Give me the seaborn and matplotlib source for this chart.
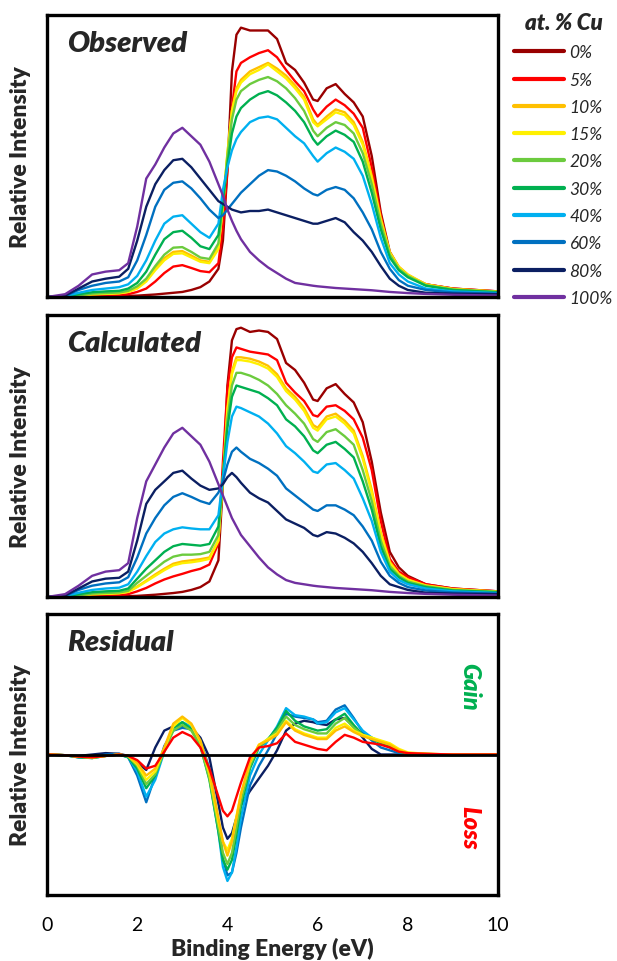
import numpy as np
import pandas as pd
import matplotlib
matplotlib.use("Agg")
import matplotlib.pyplot as plt
import seaborn as sns

# Style
sns.set_style("white")
plt.rcParams['font.family'] = ['Lato', 'DejaVu Sans']

# Binding energy grid (eV)
energy = [0.0, 0.4, 0.7, 1.0, 1.3, 1.6, 1.8, 2.0, 2.2, 2.4, 2.6, 2.8, 3.0, 3.2, 3.4,
          3.6, 3.8, 3.9, 4.0, 4.1, 4.2, 4.3, 4.5, 4.7, 4.9, 5.1, 5.3, 5.5, 5.7, 5.9,
          6.0, 6.2, 6.4, 6.6, 6.8, 7.0, 7.2, 7.4, 7.6, 7.8, 8.0, 8.4, 9.0, 10.0]

cu_labels = ['0%', '5%', '10%', '15%', '20%', '30%', '40%', '60%', '80%', '100%']
cu_colors = ['#990000', '#FF0000', '#FFC000', '#FFF000', '#6CCB3E',
             '#00B050', '#00B0F0', '#0070C0', '#0B1F62', '#7030A0']

# Observed spectra
obs_cu0 = [0, 0, 0, 0.1, 0.2, 0.3, 0.4, 0.5, 0.7, 0.9, 1.2, 1.5, 1.8, 2.5, 3.5,
           5.5, 10, 20, 45, 80, 93, 95.5, 94.5, 94.5, 94.5, 91.5, 83, 80.5, 76, 70,
           69.5, 74, 75.5, 72, 69, 64, 50, 30, 16, 10.5, 7.5, 4.5, 3, 2]
obs_cu5 = [0, 0, 0.2, 0.4, 0.5, 0.7, 1, 1.8, 3, 5.5, 8.5, 10.8, 11.3, 10.3, 9.2,
           8.8, 12, 25, 45, 67, 80, 83, 85, 86.5, 87.5, 85, 80.5, 76.5, 73, 66.5,
           64, 67.5, 70, 68, 65, 60, 46, 29, 15, 10.5, 7.5, 4.5, 3, 2]
obs_cu10 = [0, 0.1, 0.5, 1, 1.2, 1.4, 1.9, 3.2, 5.8, 10, 13.8, 16, 16.3, 14.7, 13,
            12.5, 17.5, 32, 51, 66, 74, 77, 80, 81.5, 83, 81, 78.5, 75, 71, 63,
            61, 64, 66.5, 65.5, 62, 55, 43, 28, 16, 10.8, 8, 4.5, 2.9, 1.9]
obs_cu15 = [0, 0.1, 0.4, 0.9, 1.1, 1.3, 1.8, 3, 5.5, 9.5, 13, 15.3, 15.5, 14, 12.5,
            12, 17, 32, 51, 66, 73, 76, 79, 80.5, 82.5, 80, 77.5, 74, 70, 62,
            60.5, 63, 65.5, 64.5, 61, 54, 42, 27, 15.5, 10.5, 7.8, 4.4, 2.8, 1.9]
obs_cu20 = [0, 0.1, 0.6, 1.2, 1.4, 1.6, 2.2, 3.8, 6.5, 11, 15, 17.5, 17.7, 16, 14,
            13.5, 19, 33, 50, 63, 70, 73, 75.5, 77, 78, 76.5, 74, 70.5, 66, 59,
            57, 60, 62, 61, 58, 51, 40, 26, 15, 10, 7.5, 4.2, 2.7, 1.8]
obs_cu30 = [0, 0.2, 1, 1.7, 2, 2.2, 3, 5, 9, 15, 20.5, 23, 23.5, 21, 18,
            17, 22, 34, 47, 58, 64, 67, 70, 72, 73, 71.5, 69, 66, 62, 56,
            54, 57, 59, 57.5, 55, 48, 37, 24, 14, 9.5, 7, 4, 2.5, 1.7]
obs_cu40 = [0, 0.3, 1.5, 2.5, 3, 3.5, 4.5, 7.5, 13, 20, 26, 28.5, 29, 26, 23,
            21, 26, 38, 46, 52, 56, 58.5, 62, 63.5, 64, 63, 60, 57, 54.5, 50,
            48, 51, 53, 51.5, 49, 43, 33, 21, 12, 8, 5.5, 3, 2, 1.4]
obs_cu60 = [0, 0.4, 2.5, 4, 5, 5.5, 7, 13, 22, 32, 38, 40.5, 41, 38.5, 35,
            31, 28, 29, 31, 33, 35, 37, 40, 43, 45, 44.5, 43, 41, 38.5, 36.5,
            36, 38, 39, 38, 35, 30, 24, 16, 10, 6, 4, 2.5, 1.6, 1.2]
obs_cu80 = [0, 0.5, 3, 5.5, 6.5, 7.2, 10, 20, 32, 40, 45, 48.5, 49, 46, 42,
            38, 34, 33, 32, 31, 30.5, 30, 30.5, 30.5, 31, 30, 29, 28, 27, 26,
            26, 27, 28, 26.5, 23, 20, 16, 11, 6.5, 4, 2.5, 1.5, 1.2, 1.0]
obs_cu100 = [0, 1, 4, 8, 9, 9.5, 12, 25, 42, 47, 53, 58, 60, 57, 54,
             48, 40, 36, 31, 27, 23.5, 20.5, 16, 13, 10.5, 8.5, 6.5, 5, 4.5, 4,
             3.8, 3.5, 3.2, 3, 2.8, 2.6, 2.4, 2.1, 1.8, 1.6, 1.4, 1.1, 0.8, 0.5]

# Calculated spectra
calc_cu0 = [0, 0, 0, 0, 0.1, 0.2, 0.3, 0.4, 0.6, 0.8, 1.1, 1.4, 1.8, 2.5, 3.5,
            5.5, 13, 40, 75, 91, 95, 95.5, 94, 94.5, 94, 91.5, 83, 80.5, 76, 70,
            69.5, 74, 75.5, 72, 69, 62, 48, 30, 16, 10.5, 7.5, 4.5, 3, 2]
calc_cu5 = [0, 0, 0.2, 0.4, 0.5, 0.7, 1, 2, 3.2, 4.8, 6.2, 7.3, 8.2, 9.2, 10,
            11.5, 19, 48, 74, 85, 88.5, 88, 87, 86.5, 86, 84, 76, 72.5, 69.5, 64.5,
            64, 67.5, 68, 66, 63, 56.5, 45, 27, 13.5, 9, 7, 4.5, 3, 2]
calc_cu10 = [0, 0.1, 0.5, 1, 1.2, 1.4, 1.9, 3.7, 5.8, 8, 10, 11.8, 12.6, 13, 13.4,
             14, 20, 42, 67, 80, 85, 85, 84.5, 83.5, 82, 79, 74, 71, 67, 61,
             60, 64, 65, 62.5, 59, 50, 38, 23, 12.5, 8.3, 6.2, 4.1, 2.8, 1.9]
calc_cu15 = [0, 0.1, 0.4, 0.9, 1.1, 1.3, 1.8, 3.5, 5.5, 7.5, 9.5, 11.2, 12, 12.3, 12.8,
             13.5, 20, 42, 66, 79, 84, 84, 83.5, 82.5, 81, 78, 73, 70, 66, 60,
             59, 63, 64, 61.5, 58, 49, 37, 22, 12, 8, 6, 4, 2.7, 1.9]
calc_cu20 = [0, 0.1, 0.6, 1.2, 1.4, 1.6, 2.2, 5, 7.5, 10, 12.5, 14.3, 15, 15, 15.2,
             16, 22, 42, 63, 75, 79.5, 79.5, 78.5, 77, 75, 72, 68, 65, 61.5, 56,
             55, 58.5, 59.5, 57, 54, 45, 34, 20, 11, 7.5, 5.5, 3.8, 2.5, 1.8]
calc_cu30 = [0, 0.2, 1, 1.7, 2, 2.2, 3, 6.5, 10, 13, 16, 18, 18.8, 18.5, 18.2,
             18.8, 25, 43, 60, 71, 75, 74.5, 73.5, 72.5, 70.5, 68, 63, 60.5, 57, 52,
             51, 54, 55, 52.5, 49.5, 41, 31, 18, 10, 7, 5, 3.5, 2.3, 1.7]
calc_cu40 = [0, 0.3, 1.5, 2.5, 3, 3.3, 4.5, 9, 14.5, 19.5, 22.5, 24, 24.7, 24.3, 24,
             24, 29, 42, 55, 64, 67.5, 67, 65.5, 64, 61.5, 58, 53.5, 51, 48, 44.5,
             44, 47, 47.5, 45, 42, 35, 27, 16, 9, 6, 4.5, 3, 2, 1.4]
calc_cu60 = [0, 0.4, 2.5, 4, 4.8, 5.2, 7, 14, 22.5, 28, 32.5, 35.5, 36.8, 35.5, 34,
             33, 37, 41, 47, 51.5, 53, 51.5, 49, 47.5, 45.5, 43, 38.5, 36, 33.5, 31,
             30.5, 32.5, 32.5, 31, 29, 25, 20, 12.5, 7.5, 5, 3.5, 2.3, 1.6, 1.2]
calc_cu80 = [0, 0.5, 3, 5.5, 6.5, 6.8, 9, 20, 33, 38, 41, 44, 44.8, 42, 39.5,
             38, 38.5, 40, 42.5, 44, 42.5, 40.5, 37, 35, 33.5, 30.5, 27.5, 26, 24.5, 22,
             21.5, 23, 22.5, 21, 19, 16, 12, 7.5, 4.5, 3.5, 2.5, 1.5, 1.2, 1.0]
calc_cu100 = [0, 1, 4, 7.5, 9, 9.5, 12, 28, 41, 47, 53, 58, 60, 57, 54,
              48, 40, 36, 32, 28, 25, 22, 18, 14, 10.5, 8, 6, 5, 4.5, 4,
              3.8, 3.5, 3.2, 3, 2.8, 2.6, 2.4, 2.1, 1.8, 1.6, 1.4, 1.1, 0.8, 0.5]

# Residual (observed - calculated), 0% and 100% not shown
res_cu5 = [0, -0.5, -1.5, -2, -1, 0, -1, -4, -10, -8, 2, 12, 16, 13, 5,
           -10, -30, -40, -44, -40, -30, -20, -2, 5, 6, 8, 15, 9, 7, 5,
           4, 3, 9, 14, 12, 9, 8, 7, 5, 2, 1, 0.5, 0, 0]
res_cu10 = [0, -0.5, -1.5, -2, -1, 0, -1, -6, -15, -10, 5, 22, 27, 22, 10,
            -12, -45, -62, -72, -62, -45, -28, -5, 7, 10, 14, 23, 17, 14, 12,
            11, 11, 17, 20, 16, 13, 11, 9, 7, 3, 1, 0.5, 0, 0]
res_cu15 = [0, -0.5, -1.5, -2, -1, 0, -1, -7, -18, -12, 4, 20, 26, 21, 9,
            -14, -48, -62, -68, -60, -44, -28, -6, 7, 11, 15, 24, 18, 15, 13,
            12, 12, 19, 22, 17, 14, 12, 10, 8, 4, 1.5, 0.5, 0, 0]
res_cu20 = [0, -0.5, -1.5, -2.5, -1, 0, -1.5, -8, -21, -14, 2, 17, 21, 17, 6,
            -17, -52, -70, -78, -70, -52, -33, -8, 6, 11, 17, 27, 21, 18, 16,
            15, 15, 22, 26, 19, 14, 12, 9, 7, 3, 1, 0.5, -0.5, 0]
res_cu30 = [0, -0.5, -2, -2.5, -1, 0, -2, -10, -24, -15, 3, 19, 23, 18, 6,
            -18, -55, -75, -82, -75, -57, -37, -10, 5, 11, 19, 31, 24, 20, 18,
            17, 18, 25, 29, 21, 14, 11, 8, 6, 2, 0.5, 0, -0.5, 0]
res_cu40 = [0, -0.5, -2, -2.5, -1, 0, -2, -12, -30, -18, 2, 19, 23, 20, 8,
            -16, -55, -80, -90, -84, -66, -45, -15, 0, 10, 20, 33, 28, 27, 25,
            22, 23, 30, 33, 25, 17, 12, 8, 5, 2, 0.5, -0.5, -0.5, 0]
res_cu60 = [0, -0.5, -2, -2, 0, 0.5, -2, -15, -34, -15, 6, 17, 19, 18, 10,
            -10, -48, -74, -86, -84, -70, -52, -22, -8, 3, 15, 29, 27, 26, 25,
            23, 24, 32, 35, 26, 16, 10, 5, 3, 1, 0, -0.5, 0, 0]
res_cu80 = [0, -0.5, -1, 0, 1, 0.5, -1, -6, -11, 5, 17, 20, 20, 19, 12,
            -2, -35, -52, -60, -56, -45, -36, -26, -17, -8, 3, 17, 22, 24, 23,
            22, 21, 25, 26, 20, 12, 4, 0, 0, 0, 0, 0, 0, 0]


def to_long(series):
    frames = []
    for label, values in series.items():
        frames.append(pd.DataFrame({'Binding Energy (eV)': energy,
                                    'Intensity': values, 'Cu': label}))
    return pd.concat(frames, ignore_index=True)


observed = to_long(dict(zip(cu_labels, [obs_cu0, obs_cu5, obs_cu10, obs_cu15, obs_cu20,
                                        obs_cu30, obs_cu40, obs_cu60, obs_cu80, obs_cu100])))
calculated = to_long(dict(zip(cu_labels, [calc_cu0, calc_cu5, calc_cu10, calc_cu15, calc_cu20,
                                          calc_cu30, calc_cu40, calc_cu60, calc_cu80, calc_cu100])))
res_labels = ['80%', '60%', '40%', '30%', '20%', '15%', '10%', '5%']
residual = to_long(dict(zip(res_labels, [res_cu80, res_cu60, res_cu40, res_cu30,
                                         res_cu20, res_cu15, res_cu10, res_cu5])))
palette = dict(zip(cu_labels, cu_colors))

fig = plt.figure(figsize=(6.17, 9.62), dpi=100)
ax1 = fig.add_axes([0.0762, 0.6902, 0.731, 0.2932])
ax2 = fig.add_axes([0.0762, 0.3784, 0.731, 0.2931])
ax3 = fig.add_axes([0.0762, 0.0686, 0.731, 0.2921])

sns.lineplot(data=observed, x='Binding Energy (eV)', y='Intensity', hue='Cu',
             hue_order=cu_labels, palette=palette, estimator=None, sort=False,
             lw=1.7, ax=ax1)
sns.lineplot(data=calculated, x='Binding Energy (eV)', y='Intensity', hue='Cu',
             hue_order=cu_labels, palette=palette, estimator=None, sort=False,
             lw=1.7, ax=ax2, legend=False)
sns.lineplot(data=residual, x='Binding Energy (eV)', y='Intensity', hue='Cu',
             hue_order=res_labels, palette=palette, estimator=None, sort=False,
             lw=1.7, ax=ax3, legend=False)
ax3.axhline(0, color='black', lw=2.0, zorder=5)

titles = ['Observed', 'Calculated', 'Residual']
for ax, title in zip([ax1, ax2, ax3], titles):
    ax.set_xlim(0, 10)
    ax.set_xticks(range(0, 11, 2))
    ax.set_xticks(range(1, 10, 2), minor=True)
    ax.set_yticks([])
    ax.tick_params(axis='x', which='major', direction='inout', length=10, width=1.8,
                   labelsize=14, pad=10, colors='black')
    ax.tick_params(axis='x', which='minor', direction='in', length=4, width=1.8)
    for side in ax.spines.values():
        side.set_linewidth(2.4)
        side.set_color('black')
    ax.set_ylabel('Relative Intensity', fontsize=16.5, fontweight='heavy')
    ax.yaxis.set_label_coords(-0.035, 0.5)
    ax.set_xlabel('')
    ax.text(0.044, 0.9, title, transform=ax.transAxes, fontsize=21,
            fontweight='heavy', fontstyle='italic', ha='left', va='center')

ax1.set_ylim(0, 100)
ax2.set_ylim(0, 100)
ax3.set_ylim(-100, 100)
ax1.tick_params(axis='x', labelbottom=False)
ax2.tick_params(axis='x', labelbottom=False)

ax3.set_xlabel('Binding Energy (eV)', fontsize=16.5, fontweight='heavy')
ax3.xaxis.set_label_coords(0.5, -0.148)

ax3.text(0.938, 0.744, 'Gain', transform=ax3.transAxes, rotation=-90, color='#00B050',
         fontsize=17, fontweight='heavy', fontstyle='italic', ha='center', va='center')
ax3.text(0.938, 0.242, 'Loss', transform=ax3.transAxes, rotation=-90, color='#FF0000',
         fontsize=17, fontweight='heavy', fontstyle='italic', ha='center', va='center')

# Legend to the right of the top panel
sns.move_legend(ax1, 'upper left', bbox_to_anchor=(1.02, 1.035), frameon=False,
                title='at. % Cu', fontsize=12.5, handlelength=2.9, handletextpad=0.3,
                labelspacing=0.65, borderaxespad=0)
leg = ax1.get_legend()
leg.get_title().set_fontsize(16)
leg.get_title().set_fontweight('heavy')
leg.get_title().set_fontstyle('italic')
for line in leg.get_lines():
    line.set_linewidth(3)
for txt in leg.get_texts():
    txt.set_fontstyle('italic')

plt.savefig('out.png', dpi=100)
